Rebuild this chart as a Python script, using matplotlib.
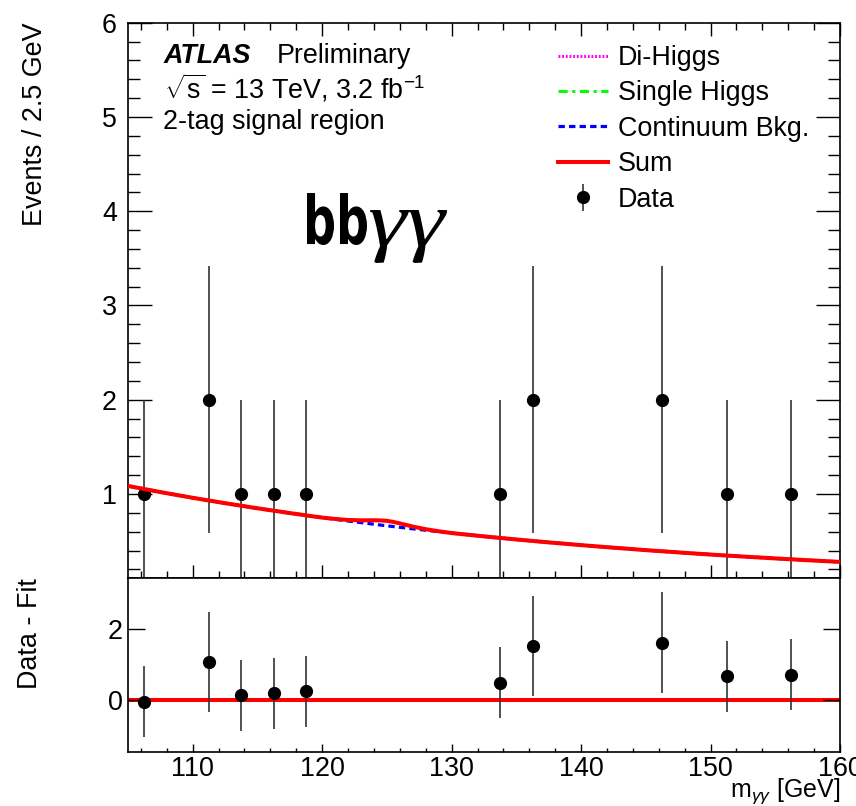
import numpy as np
import matplotlib.pyplot as plt
from matplotlib.ticker import MultipleLocator
from matplotlib.textpath import TextPath
from matplotlib.patches import PathPatch
from matplotlib.font_manager import FontProperties
from matplotlib.transforms import Affine2D

plt.rcParams['font.family'] = ['Liberation Sans', 'DejaVu Sans']
plt.rcParams['mathtext.fontset'] = 'custom'
plt.rcParams['mathtext.rm'] = 'Liberation Sans'
plt.rcParams['mathtext.it'] = 'Liberation Sans:italic'
plt.rcParams['mathtext.bf'] = 'Liberation Sans:bold'

# events per 2.5 GeV bin (only non-empty bins)
m_bins = [106.25, 111.25, 113.75, 116.25, 118.75, 133.75, 136.25, 146.25, 151.25, 156.25]
n_evt = [1, 2, 1, 1, 1, 1, 2, 2, 1, 1]
resid = [-0.05, 1.07, 0.13, 0.19, 0.24, 0.48, 1.51, 1.61, 0.66, 0.70]
n_err = np.sqrt(n_evt)

# fitted model components
m_fit = [105, 107.5, 110, 112.5, 115, 117.5, 120, 121, 122, 123, 124, 124.5, 125,
         125.5, 126, 127, 128, 129, 130, 132.5, 135, 137.5, 140, 142.5, 145, 147.5,
         150, 152.5, 155, 157.5, 160]
bkg = [1.085, 1.020, 0.959, 0.902, 0.848, 0.797, 0.749, 0.731, 0.713, 0.696, 0.679,
       0.670, 0.662, 0.654, 0.646, 0.630, 0.615, 0.600, 0.585, 0.550, 0.517, 0.486,
       0.457, 0.430, 0.404, 0.380, 0.357, 0.336, 0.316, 0.297, 0.279]
single_h = [0, 0, 0, 0, 0, 0, 0, 0.003, 0.008, 0.018, 0.032, 0.037, 0.040, 0.037,
            0.032, 0.018, 0.008, 0.003, 0, 0, 0, 0, 0, 0, 0, 0, 0, 0, 0, 0, 0]
di_h = [0, 0, 0, 0, 0, 0, 0, 0.001, 0.003, 0.006, 0.010, 0.012, 0.013, 0.012,
        0.010, 0.006, 0.003, 0.001, 0, 0, 0, 0, 0, 0, 0, 0, 0, 0, 0, 0, 0]
total = np.array(bkg) + np.array(single_h) + np.array(di_h)

W, H = 856, 806
fig = plt.figure(figsize=(W / 100, H / 100), dpi=100)
ax = fig.add_axes([0.1495, 0.2825, 0.8318, 0.6893])
rx = fig.add_axes([0.1495, 0.067, 0.8318, 0.2155], sharex=ax)


def boxed_text(s, prop, x0, x1, ytop, ybot):
    # glyph outline stretched into a pixel box (y measured from the top)
    p = TextPath((0, 0), s, size=100, prop=prop)
    e = p.get_extents()
    tr = (Affine2D().translate(-e.x0, -e.y0)
          .scale((x1 - x0) / e.width, (ybot - ytop) / e.height)
          .translate(x0, H - ybot))
    fig.add_artist(PathPatch(p, transform=tr, facecolor='black', edgecolor='none'))


fs = 19.4
ax.plot(m_fit, di_h, color='#ff00ff', lw=2.2, ls=(0, (0.6, 0.6)), label='Di-Higgs', zorder=3)
ax.plot(m_fit, single_h, color='#00ff00', lw=2.2, ls=(0, (3, 1.5, 1, 1.5)), label='Single Higgs', zorder=3)
ax.plot(m_fit, bkg, color='#0000ff', lw=2.3, ls=(0, (2, 1.3)), label='Continuum Bkg.', zorder=3)
ax.plot(m_fit, total, color='#ff0000', lw=2.9, label='Sum', zorder=4)
ax.errorbar(m_bins, n_evt, yerr=n_err, fmt='o', color='black', ms=8.5,
            ecolor='#333333', elinewidth=1.2, capsize=0, label='Data', zorder=2)

ax.set_xlim(105, 160)
ax.set_ylim(0.105, 6)
ax.yaxis.set_major_locator(MultipleLocator(1))
ax.yaxis.set_minor_locator(MultipleLocator(0.2))
ax.xaxis.set_major_locator(MultipleLocator(10))
ax.xaxis.set_minor_locator(MultipleLocator(2))
ax.tick_params(axis='both', which='both', direction='in', top=True, right=True,
               labelbottom=False, labelsize=fs)
ax.tick_params(axis='y', which='major', length=17, width=1, pad=8)
ax.tick_params(axis='y', which='minor', length=8.6, width=1)
ax.tick_params(axis='x', which='major', length=9.4, width=1)
ax.tick_params(axis='x', which='minor', length=5, width=1)
ax.set_ylabel('Events / 2.5 GeV', fontsize=fs, loc='top')
ax.yaxis.set_label_coords(-0.112, 1.0)

ax.legend(loc='upper left', bbox_to_anchor=(0.604, 0.960), frameon=False,
          fontsize=fs, borderpad=0, borderaxespad=0, handlelength=1.86,
          handletextpad=0.37, labelspacing=0.35)

ax.text(0.0506, 0.9275, 'ATLAS', transform=ax.transAxes, fontsize=fs,
        fontweight='bold', fontstyle='italic')
ax.text(0.2089, 0.9275, 'Preliminary', transform=ax.transAxes, fontsize=fs)
ax.text(0.0506, 0.864, r'$\sqrt{\mathrm{s}}$ = 13 TeV, 3.2 fb$^{-1}$',
        transform=ax.transAxes, fontsize=fs)
ax.text(0.049, 0.808, '2-tag signal region', transform=ax.transAxes, fontsize=fs)

boxed_text('bb', FontProperties(family='DejaVu Sans', weight='bold'), 307, 367, 193, 245)
boxed_text('γγ', FontProperties(family='Liberation Serif', style='italic'), 370, 447, 210, 263)

# residual panel
rx.axhline(0, color='#ff0000', lw=2.9, zorder=1)
rx.errorbar(m_bins, resid, yerr=n_err, fmt='o', color='black', ms=8.5,
            ecolor='#333333', elinewidth=1.2, capsize=0, zorder=2)
rx.set_ylim(-1.47, 3.42)
rx.yaxis.set_major_locator(MultipleLocator(2))
rx.tick_params(axis='both', which='both', direction='in', top=False, right=True,
               labelsize=fs)
rx.tick_params(axis='y', which='major', length=12, width=1, pad=3.6)
rx.tick_params(axis='x', which='major', length=5.8, width=1, pad=3)
rx.tick_params(axis='x', which='minor', length=2.9, width=1)
rx.set_ylabel('Data - Fit', fontsize=fs, loc='top')
rx.yaxis.set_label_coords(-0.1187, 1.0)
rx.set_xlabel(r'm$_{\gamma\gamma}$ [GeV]', fontsize=18, loc='right')
rx.xaxis.set_label_coords(1.0, -0.258)
rx.xaxis.label.set_va('baseline')

for a in (ax, rx):
    for s in a.spines.values():
        s.set_linewidth(1.2)

fig.savefig('out.png', dpi=100)
